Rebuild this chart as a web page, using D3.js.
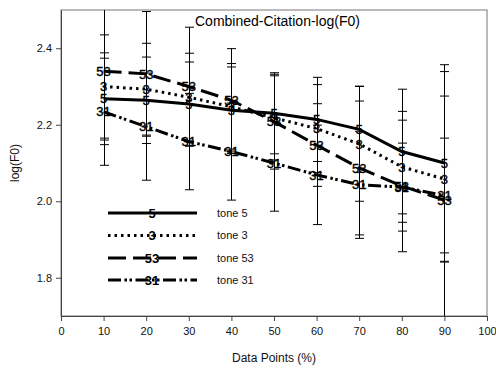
<!DOCTYPE html>
<html>
<head>
<meta charset="utf-8">
<script src="https://cdn.jsdelivr.net/npm/d3@7"></script>
<style>
  body { margin: 0; background: #fff; }
  svg { display: block; font-family: "Liberation Sans", Arial, sans-serif; }
</style>
</head>
<body>
<div id="chart"></div>
<script>
const width = 496;
const height = 369;

// data
const dataPoints = [10, 20, 30, 40, 50, 60, 70, 80, 90];
const tone5 = [2.268, 2.264, 2.254, 2.238, 2.230, 2.214, 2.188, 2.130, 2.100];
const tone3 = [2.300, 2.293, 2.272, 2.247, 2.218, 2.190, 2.150, 2.090, 2.058];
const tone53 = [2.340, 2.333, 2.300, 2.264, 2.208, 2.147, 2.087, 2.040, 2.003];
const tone31 = [2.234, 2.195, 2.156, 2.130, 2.100, 2.069, 2.043, 2.037, 2.015];
const err5 = [0.120, 0.113, 0.110, 0.113, 0.106, 0.110, 0.113, 0.163, 0.257];
const err3 = [0.135, 0.120, 0.115, 0.113, 0.110, 0.115, 0.150, 0.145, 0.217];
const err53 = [0.180, 0.163, 0.155, 0.135, 0.124, 0.108, 0.175, 0.172, 0.336];
const err31 = [0.140, 0.140, 0.126, 0.127, 0.126, 0.130, 0.140, 0.115, 0.150];
const xTicks = [0, 10, 20, 30, 40, 50, 60, 70, 80, 90, 100];
const yTicks = [1.8, 2.0, 2.2, 2.4];
const seriesNames = ['5', '3', '53', '31'];
const legendLabels = ['tone 5', 'tone 3', 'tone 53', 'tone 31'];

const styles = {
  '5': { dash: null },
  '3': { dash: '2.5,4' },
  '53': { dash: '18,7' },
  '31': { dash: '13,3.5,2.5,2.5,2.5,3.5' }
};

const series = [
  { name: '5', values: tone5, err: err5 },
  { name: '3', values: tone3, err: err3 },
  { name: '53', values: tone53, err: err53 },
  { name: '31', values: tone31, err: err31 }
];

const margin = { top: 10, right: 9, bottom: 53, left: 61 };

const x = d3.scaleLinear().domain([0, 100]).range([margin.left, width - margin.right]);
const y = d3.scaleLinear().domain([1.7, 2.5]).range([height - margin.bottom, margin.top]);

const svg = d3.select('#chart').append('svg')
    .attr('width', width)
    .attr('height', height);

svg.append('defs').append('clipPath')
    .attr('id', 'plotclip')
  .append('rect')
    .attr('x', margin.left)
    .attr('y', margin.top)
    .attr('width', width - margin.left - margin.right)
    .attr('height', height - margin.top - margin.bottom);

// frame
svg.append('rect')
    .attr('x', margin.left)
    .attr('y', margin.top)
    .attr('width', width - margin.left - margin.right)
    .attr('height', height - margin.top - margin.bottom)
    .attr('fill', 'none')
    .attr('stroke', '#777')
    .attr('stroke-width', 1);

// axes
const xAxis = svg.append('g')
    .attr('transform', `translate(0,${height - margin.bottom})`)
    .call(d3.axisBottom(x).tickValues(xTicks).tickSizeOuter(0).tickSizeInner(5).tickPadding(6));
const yAxis = svg.append('g')
    .attr('transform', `translate(${margin.left},0)`)
    .call(d3.axisLeft(y).tickValues(yTicks).tickFormat(d3.format('.1f')).tickSizeOuter(0).tickSizeInner(5).tickPadding(4));

[xAxis, yAxis].forEach(a => {
  a.select('.domain').attr('stroke', '#444');
  a.selectAll('.tick line').attr('stroke', '#444');
  a.selectAll('.tick text')
      .attr('font-family', '"Liberation Sans", Arial, sans-serif')
      .attr('font-size', 11)
      .attr('fill', '#111');
});

// error bars
const plot = svg.append('g').attr('clip-path', 'url(#plotclip)');

series.forEach(s => {
  const g = plot.append('g').attr('stroke', '#000').attr('stroke-width', 1);
  dataPoints.forEach((p, i) => {
    const cx = Math.round(x(p)) + 0.5;
    const hi = y(s.values[i] + s.err[i]);
    const lo = y(s.values[i] - s.err[i]);
    g.append('line').attr('x1', cx).attr('x2', cx).attr('y1', hi).attr('y2', lo);
    g.append('line').attr('x1', cx - 4.5).attr('x2', cx + 4.5).attr('y1', hi).attr('y2', hi);
    g.append('line').attr('x1', cx - 4.5).attr('x2', cx + 4.5).attr('y1', lo).attr('y2', lo);
  });
});

// lines
const line = d3.line()
    .x((d, i) => x(dataPoints[i]))
    .y(d => y(d));

series.forEach(s => {
  plot.append('path')
      .datum(s.values)
      .attr('fill', 'none')
      .attr('stroke', '#000')
      .attr('stroke-width', 3)
      .attr('stroke-dasharray', styles[s.name].dash)
      .attr('d', line);
});

// point labels (the symbols are the series names)
series.forEach(s => {
  plot.append('g')
    .selectAll('text')
    .data(s.values)
    .join('text')
      .attr('x', (d, i) => x(dataPoints[i]))
      .attr('y', d => y(d))
      .attr('dy', '0.36em')
      .attr('text-anchor', 'middle')
      .attr('font-size', 13)
      .attr('fill', '#000')
      .attr('stroke', '#000')
      .attr('stroke-width', 0.4)
      .text(s.name);
});

// legend
const legend = svg.append('g');
const legendY = [213, 235.5, 258, 280];
seriesNames.forEach((name, i) => {
  legend.append('line')
      .attr('x1', 108)
      .attr('x2', 197)
      .attr('y1', legendY[i])
      .attr('y2', legendY[i])
      .attr('stroke', '#000')
      .attr('stroke-width', 3)
      .attr('stroke-dasharray', styles[name].dash);
  legend.append('text')
      .attr('x', 152)
      .attr('y', legendY[i])
      .attr('dy', '0.36em')
      .attr('text-anchor', 'middle')
      .attr('font-size', 13)
      .attr('font-weight', 'bold')
      .attr('fill', '#000')
      .text(name);
  legend.append('text')
      .attr('x', 217)
      .attr('y', legendY[i])
      .attr('dy', '0.35em')
      .attr('font-size', 11)
      .attr('fill', '#111')
      .text(legendLabels[i]);
});

// title and axis labels
svg.append('text')
    .attr('x', 195)
    .attr('y', 26)
    .attr('font-size', 14)
    .attr('fill', '#000')
    .text('Combined-Citation-log(F0)');

svg.append('text')
    .attr('x', (margin.left + width - margin.right) / 2)
    .attr('y', 362)
    .attr('text-anchor', 'middle')
    .attr('font-size', 12)
    .attr('fill', '#111')
    .text('Data Points (%)');

svg.append('text')
    .attr('transform', `translate(19,${(margin.top + height - margin.bottom) / 2}) rotate(-90)`)
    .attr('text-anchor', 'middle')
    .attr('font-size', 12)
    .attr('fill', '#111')
    .text('log(F0)');
</script>
</body>
</html>
